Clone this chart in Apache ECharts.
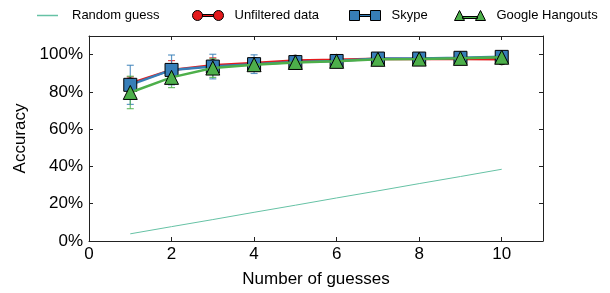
<!DOCTYPE html>
<html><head><meta charset="utf-8">
<script src="https://cdn.jsdelivr.net/npm/echarts@6/dist/echarts.min.js"></script>
<style>html,body{margin:0;padding:0;background:#fff}#c{width:610px;height:293px}</style>
</head><body><div id="c"></div>
<script>
const guesses = [1,2,3,4,5,6,7,8,9,10];
const randomGuess = [3.85,7.7,11.5,15.4,19.2,23.1,26.9,30.8,34.6,38.5];
const unfiltered = [84.5,91.8,94.3,95.5,96.8,97.2,97.8,97.7,97.6,97.5];
const unfilteredErr = [3.5,5,4,2.5,1.5,1.5,1,1,0.8,0.8];
const skype = [83.8,91.8,93.6,94.9,96.0,96.6,97.9,97.9,98.3,98.8];
const skypeErr = [10.5,8,6.6,5,2.5,2,1.2,1,1,0.8];
const hangouts = [79.7,87.8,92.8,94.6,95.8,96.4,97.5,97.6,98.0,98.6];
const hangoutsErr = [8.7,5.5,5,3,2,1.5,1,1,0.8,0.8];
const yTicks = [0,20,40,60,80,100];

const RED='#e41a1c', BLUE='#377eb8', GREEN='#4daf4a', TEAL='#66c2a5';
const FONT='Liberation Sans, Arial, sans-serif';

function pairs(ys){return guesses.map((x,i)=>[x,ys[i]]);}
function errData(ys,es){return guesses.map((x,i)=>[x,ys[i]-es[i],ys[i]+es[i]]);}
function errSeries(name,ys,es,color){
  return {type:'custom',name:name,data:errData(ys,es),z:2,silent:true,
    itemStyle:{color:color},
    encode:{x:0,y:[1,2]},
    renderItem:function(params,api){
      const x=api.value(0);
      const lo=api.coord([x,api.value(1)]);
      const hi=api.coord([x,api.value(2)]);
      const w=3.5;
      const st={stroke:color,lineWidth:1.2,opacity:0.8};
      return {type:'group',children:[
        {type:'line',shape:{x1:lo[0],y1:lo[1],x2:hi[0],y2:hi[1]},style:st},
        {type:'line',shape:{x1:lo[0]-w,y1:lo[1],x2:lo[0]+w,y2:lo[1]},style:st},
        {type:'line',shape:{x1:hi[0]-w,y1:hi[1],x2:hi[0]+w,y2:hi[1]},style:st}
      ]};
    }};
}
function lineSeries(name,ys,color,symbol,size,z){
  return {type:'line',name:name,data:pairs(ys),symbol:symbol,symbolSize:size,z:z,
    color:color,
    lineStyle:{color:color,width:2.5},
    itemStyle:{color:color,borderColor:'#000',borderWidth:1},
    emphasis:{disabled:true}};
}
const circIcon='path://M0,5A5,5 0 1,0 10,5A5,5 0 1,0 0,5Z M10,4L21,4L21,6L10,6Z M21,5A5,5 0 1,0 31,5A5,5 0 1,0 21,5Z';
const sqIcon='path://M0,0L10,0L10,10L0,10Z M10,4L21,4L21,6L10,6Z M21,0L31,0L31,10L21,10Z';
const triIcon='path://M5,0L10,10L0,10Z M8,6L23,6L23,8L8,8Z M26,0L31,10L21,10Z';

function leg(name,left,icon,w,h,color){
  return {data:[{name:name,icon:icon,itemStyle:{color:color,borderColor:'#000',borderWidth:1}}],
    left:left,top:9,padding:0,itemWidth:w,itemHeight:h,
    textStyle:{fontFamily:FONT,fontSize:13,color:'#000',padding:[0,0,0,6]},
    selectedMode:false};
}
const axisLineStyle={onZero:false,lineStyle:{color:'#222',width:1}};
const option={
  animation:false,
  legend:[
    {data:[{name:'Random guess',icon:'rect',itemStyle:{color:TEAL,borderWidth:0}}],
      left:37,top:9,padding:0,itemWidth:21,itemHeight:1.5,selectedMode:false,
      textStyle:{fontFamily:FONT,fontSize:13,color:'#000',padding:[0,0,0,9]}},
    leg('Unfiltered data',192,circIcon,31,10,RED),
    leg('Skype',349,sqIcon,31,10,BLUE),
    leg('Google Hangouts',454,triIcon,31,10,GREEN)
  ],
  grid:{left:89,right:67,top:36,bottom:49},
  xAxis:[{type:'value',min:0,max:11,interval:2,
      name:'Number of guesses',nameLocation:'middle',nameGap:30,
      nameTextStyle:{fontFamily:FONT,fontSize:17,color:'#000'},
      axisLine:Object.assign({show:true},axisLineStyle),
      axisTick:{show:true,inside:true,length:4,lineStyle:{color:'#222'}},
      axisLabel:{fontFamily:FONT,fontSize:17,color:'#000',margin:5,
        formatter:v=>v>10?'':String(v)},
      splitLine:{show:false}},
    {type:'value',min:0,max:11,interval:2,position:'top',
      axisLine:Object.assign({show:true},axisLineStyle),
      axisTick:{show:true,inside:true,length:4,lineStyle:{color:'#222'}},
      axisLabel:{show:false},splitLine:{show:false}}],
  yAxis:[{type:'value',min:0,max:110,interval:20,
      name:'Accuracy',nameLocation:'middle',nameGap:60,
      nameTextStyle:{fontFamily:FONT,fontSize:17,color:'#000'},
      axisLine:Object.assign({show:true},axisLineStyle),
      axisTick:{show:true,inside:true,length:4,lineStyle:{color:'#222'}},
      axisLabel:{fontFamily:FONT,fontSize:17,color:'#000',margin:6,
        formatter:v=>yTicks.indexOf(v)>=0?v+'%':''},
      splitLine:{show:false}},
    {type:'value',min:0,max:110,interval:20,position:'right',
      axisLine:Object.assign({show:true},axisLineStyle),
      axisTick:{show:true,inside:true,length:4,lineStyle:{color:'#222'}},
      axisLabel:{show:false},splitLine:{show:false}}],
  series:[
    {type:'line',name:'Random guess',data:pairs(randomGuess),symbol:'none',z:1,color:TEAL,
      lineStyle:{color:TEAL,width:1},itemStyle:{color:TEAL}},
    errSeries('err-unfiltered',unfiltered,unfilteredErr,RED),
    errSeries('err-skype',skype,skypeErr,BLUE),
    errSeries('err-hangouts',hangouts,hangoutsErr,GREEN),
    lineSeries('Unfiltered data',unfiltered,RED,'circle',11,3),
    lineSeries('Skype',skype,BLUE,'rect',13,4),
    lineSeries('Google Hangouts',hangouts,GREEN,'triangle',14,5)
  ]
};
const chart=echarts.init(document.getElementById('c'),null,{renderer:'canvas'});
chart.setOption(option);
</script></body></html>
